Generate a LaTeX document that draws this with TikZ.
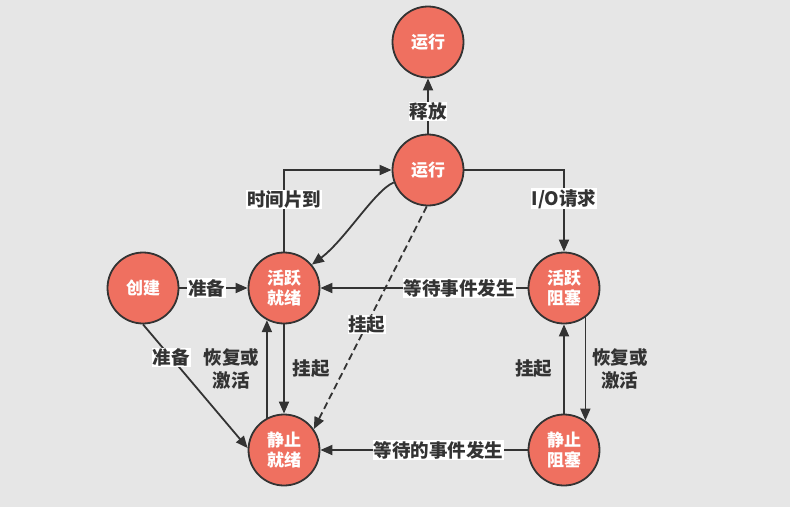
\documentclass[tikz,border=0pt]{standalone}
\usepackage{fontspec}
\setmainfont{Noto Sans CJK SC}
\usetikzlibrary{arrows.meta}
\definecolor{bgc}{HTML}{E6E6E6}
\definecolor{nodec}{HTML}{EF7060}
\definecolor{linec}{HTML}{333333}
\tikzset{
  state/.style={circle, draw=linec, line width=1.8pt, fill=nodec, minimum size=71pt, inner sep=0pt,
    text=white, font=\bfseries\fontsize{17}{20}\selectfont, align=center},
  arr/.style={draw=linec, line width=1.8pt, -{Triangle[length=12pt,width=10pt]}},
  lbl/.style={fill=white, inner sep=0.8pt, text=linec, font=\bfseries\fontsize{18.5}{22}\selectfont},
  plbl/.style={inner sep=0.8pt, text=linec, font=\bfseries\fontsize{18.5}{23}\selectfont, align=center}
}
\begin{document}
\begin{tikzpicture}[x=1pt,y=-1pt]
\useasboundingbox (0,0) rectangle (790,507);
\fill[bgc] (0,0) rectangle (790,507);
\node[state] (top) at (428,42) {运行};
\node[state] (run) at (428,170) {运行};
\node[state] (create) at (143,288) {创建};
\node[state] (ready) at (284,288) {活跃\\就绪};
\node[state] (ablock) at (564,288) {活跃\\阻塞};
\node[state] (static) at (284,450) {静止\\就绪};
\node[state] (sblock) at (564,450) {静止\\阻塞};
% run -> top
\draw[arr] (run.north) -- (top.south) node[lbl, pos=0.4] {释放};
% ready -> run
\draw[arr] (ready.north) |- (run.west) node[lbl, pos=0.32] {时间片到};
% run -> ablock
\draw[arr] (run.east) -| (ablock.north) node[lbl, pos=0.677] {I/O请求};
% run -> ready curve
\draw[arr] (run.200) .. controls (375,190) and (345,240) .. (ready.40);
% run -> static dashed
\draw[arr, dash pattern=on 7pt off 4pt] (run.268) -- (static.35) node[lbl, pos=0.53] {挂起};
% create -> ready
\draw[arr] (create.east) -- (ready.west) node[lbl, pos=0.4] {准备};
% create -> static
\draw[arr] (create.south) -- (static.177) node[lbl, pos=0.27] {准备};
% ready <-> static
\draw[arr] (static.118) -- (ready.242) node[plbl, midway, left=6pt] {恢复或\\激活};
\draw[arr] (ready.south) -- (static.north) node[plbl, midway, right=7pt] {挂起};
% ablock -> ready
\draw[arr] (ablock.west) -- (ready.east) node[lbl, pos=0.33] {等待事件发生};
% sblock -> static
\draw[arr] (sblock.west) -- (static.east) node[lbl, pos=0.43] {等待的事件发生};
% sblock <-> ablock
\draw[arr] (sblock.north) -- (ablock.south) node[plbl, midway, left=10pt] {挂起};
\draw[arr] (ablock.-54) -- (sblock.54) node[plbl, midway, right=5pt] {恢复或\\激活};
\end{tikzpicture}
\end{document}
